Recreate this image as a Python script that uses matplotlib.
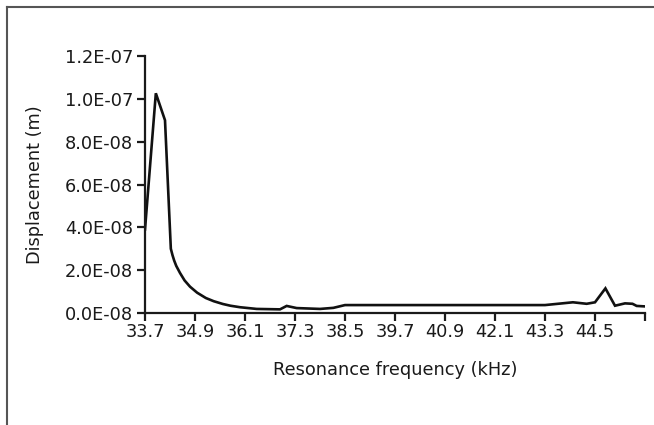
import matplotlib
matplotlib.use("Agg")
import matplotlib.pyplot as plt
from matplotlib.lines import Line2D

# Data
freq_khz = [33.70, 33.96, 34.18, 34.32, 34.36, 34.40, 34.45, 34.54, 34.65, 34.78,
            34.95, 35.16, 35.35, 35.57, 35.75, 35.98, 36.38, 36.94, 37.10, 37.34,
            37.90, 38.22, 38.50, 43.30, 43.97, 44.30, 44.50, 44.75, 44.98, 45.22,
            45.40, 45.50, 45.68]
disp_e8 = [3.9, 10.26, 9.0, 3.0, 2.7, 2.45, 2.2, 1.87, 1.52, 1.23,
           0.95, 0.70, 0.55, 0.42, 0.34, 0.27, 0.19, 0.17, 0.33, 0.23,
           0.19, 0.24, 0.37, 0.37, 0.50, 0.43, 0.50, 1.15, 0.34, 0.45,
           0.43, 0.33, 0.31]
displacement = [v * 1e-8 for v in disp_e8]

x_ticks = [33.7, 34.9, 36.1, 37.3, 38.5, 39.7, 40.9, 42.1, 43.3, 44.5, 45.7]
x_tick_labels = ["33.7", "34.9", "36.1", "37.3", "38.5", "39.7", "40.9", "42.1",
                 "43.3", "44.5", ""]
y_ticks = [0, 2e-8, 4e-8, 6e-8, 8e-8, 1e-7, 1.2e-7]
y_tick_labels = ["0.0E-08", "2.0E-08", "4.0E-08", "6.0E-08", "8.0E-08",
                 "1.0E-07", "1.2E-07"]

plt.rcParams['font.family'] = ['DejaVu Sans']

fig = plt.figure(figsize=(6.54, 4.25), dpi=100)
W, H = 654, 425
ax = fig.add_axes([145 / W, (H - 313) / H, 500 / W, 257 / H])

ax.plot(freq_khz, displacement, color="#111111", lw=1.9, solid_joinstyle="miter")

ax.set_xlim(33.7, 45.7)
ax.set_ylim(0, 1.2e-7)
ax.set_xticks(x_ticks)
ax.set_xticklabels(x_tick_labels)
ax.set_yticks(y_ticks)
ax.set_yticklabels(y_tick_labels)

for s in ["top", "right"]:
    ax.spines[s].set_visible(False)
for s in ["left", "bottom"]:
    ax.spines[s].set_linewidth(1.6)
    ax.spines[s].set_color("#1a1a1a")

ax.tick_params(axis="both", direction="out", length=5.5, width=1.6, color="#1a1a1a",
               labelsize=12.8, labelcolor="#1a1a1a", pad=3)
ax.tick_params(axis="x", pad=2)

ax.set_xlabel("Resonance frequency (kHz)", fontsize=12.8, color="#1a1a1a", labelpad=14)
ax.set_ylabel("Displacement (m)", fontsize=12.8, color="#1a1a1a", labelpad=15)

# outer frame (left and top edges visible)
fig.add_artist(Line2D([6.5 / W, 6.5 / W], [0, 1 - 6.5 / H], transform=fig.transFigure,
                      color="#555555", lw=1.5))
fig.add_artist(Line2D([6.5 / W, 1], [1 - 6.5 / H, 1 - 6.5 / H], transform=fig.transFigure,
                      color="#555555", lw=1.5))

fig.savefig("out.png", dpi=100)
